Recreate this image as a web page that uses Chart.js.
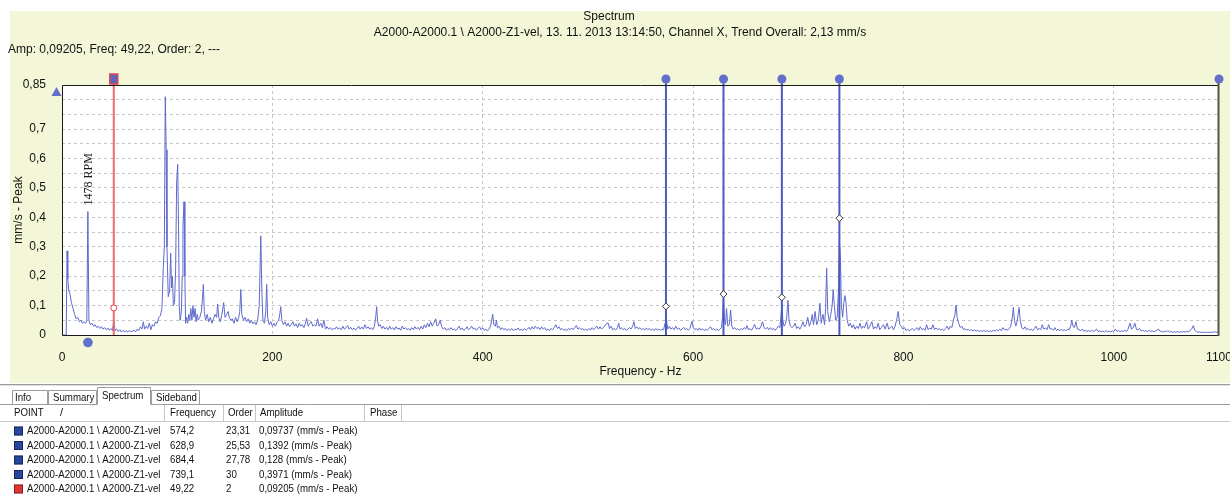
<!DOCTYPE html>
<html>
<head>
<meta charset="utf-8">
<title>Spectrum</title>
<script src="https://cdn.jsdelivr.net/npm/chart.js@4.4.1/dist/chart.umd.min.js"></script>
<style>
  html, body { margin: 0; padding: 0; background: #fff; }
  canvas { display: block; }
</style>
</head>
<body>
<canvas id="spectrumChart" width="1230" height="499"></canvas>
<script>
// axis ticks
const xTickValues = [0, 200, 400, 600, 800, 1000, 1100];
const xTickLabels = ['0', '200', '400', '600', '800', '1000', '1100'];
const yTickValues = [0, 0.05, 0.1, 0.15, 0.2, 0.25, 0.3, 0.35, 0.4, 0.45, 0.5, 0.55, 0.6, 0.65, 0.7, 0.75, 0.8, 0.85];
const yTickLabels = ['0', '', '0,1', '', '0,2', '', '0,3', '', '0,4', '', '0,5', '', '0,6', '', '0,7', '', '', '0,85'];

// spectrum, [frequency Hz, amplitude mm/s peak]
const spectrum = [
  [0,0],[4,0],[4.8,0.286],[5.5,0.19],[6.5,0.15],[7.5,0.14],[9,0.11],[10.5,0.09],[12,0.07],[13.5,0.055],
  [15,0.06],[16.5,0.045],[18,0.05],[19.5,0.04],[21,0.045],[22.5,0.04],[23.6,0.05],[24.6,0.42],[25.6,0.05],[27,0.035],
  [28.5,0.04],[30,0.03],[31.5,0.035],[33,0.025],[34.5,0.03],[36,0.022],[37.5,0.028],[39,0.02],[40.5,0.025],[42,0.018],
  [43.5,0.024],[45,0.016],[46.5,0.022],[48,0.015],[49.2,0.05],[50.5,0.015],
  [52,0.02],[53.5,0.012],[55,0.018],[56.5,0.01],[58,0.016],[59.5,0.011],[61,0.014],[62.5,0.01],[64,0.015],[65.5,0.011],
  [67,0.013],[68.5,0.016],[70,0.011],[71.5,0.02],[73,0.015],[74.5,0.028],[76,0.02],[77.3,0.045],[78.5,0.02],[80,0.03],
  [81.5,0.022],[83,0.04],[84.5,0.018],[86,0.035],[87.5,0.03],[89,0.045],[90.5,0.04],[92,0.06],[93.5,0.065],[95,0.09],
  [96.3,0.23],[97.3,0.3],[98.2,0.81],[99,0.63],[99.8,0.3],[101,0.13],[102.3,0.15],[103.3,0.278],[104.2,0.16],[105,0.2],
  [105.9,0.1],[107,0.11],[108,0.22],[109,0.52],[110,0.58],[110.8,0.37],[111.5,0.1],[112.3,0.05],[113.5,0.08],[114.3,0.2],
  [115,0.37],[116,0.453],[116.8,0.2],[117.5,0.04],
  [118.5,0.06],[119.5,0.04],[120.5,0.07],[121.5,0.05],[122.5,0.09],[123.5,0.05],[124.5,0.1],[125.5,0.06],[126.5,0.09],[127.5,0.045],
  [128.5,0.07],[129.5,0.05],[131,0.06],[132.5,0.08],[133.5,0.12],[134.4,0.172],[135.3,0.08],[136.5,0.05],[138,0.07],[139.5,0.045],
  [141,0.06],[142.5,0.04],[144,0.055],[145.5,0.07],[147,0.06],[148,0.105],[149,0.06],[150.5,0.045],[152,0.07],[153.7,0.11],
  [155,0.06],[156.5,0.07],[158,0.08],[159,0.06],[160.5,0.05],[162,0.055],[163.5,0.04],[165,0.06],[166.5,0.045],[168,0.06],
  [169,0.08],[170,0.155],[171,0.07],[172.5,0.05],[174,0.06],[175.5,0.045],[177,0.055],[178.5,0.04],[180,0.05],[181.5,0.038],
  [183,0.045],[184.5,0.035],[186,0.05],[187.5,0.1],[189,0.337],[190,0.15],[191,0.05],[192.5,0.04],[193.7,0.08],[194.6,0.172],
  [195.5,0.06],[197,0.035],[198.5,0.045],[200,0.03],
  [201.5,0.04],[203,0.03],[204.5,0.045],[206,0.05],[207,0.07],[208,0.096],[209,0.05],[210.5,0.035],[212,0.045],[213.5,0.03],
  [215,0.04],[216.5,0.028],[218,0.035],[219.5,0.045],[221,0.03],[222.5,0.038],[224,0.025],[225.5,0.04],[227,0.03],[228.5,0.035],
  [230,0.025],[231.5,0.04],[232.6,0.057],[234,0.03],[235.5,0.04],[237,0.045],[238.5,0.03],[240,0.035],[241.5,0.03],[243,0.055],
  [244.5,0.03],[246,0.04],[247.5,0.025],[249,0.05],[250.5,0.02],[252,0.028],[253.5,0.02],[255,0.025],[256.5,0.018],[258,0.022],
  [259.5,0.02],[261,0.028],[262.5,0.02],[264,0.024],[265.5,0.018],[267,0.03],[268.5,0.02],[270,0.025],[271.5,0.032],[273,0.02],
  [274.5,0.026],[276,0.018],[277.5,0.024],[279,0.017],[280.5,0.022],[282,0.03],[283.5,0.02],[285,0.027],[286.5,0.02],[288,0.035],
  [289.5,0.022],[291,0.028],[292.5,0.02],[294,0.025],[295.5,0.018],[297,0.03],[298.2,0.06],[299.2,0.096],[300,0.05],[301,0.03],
  [302.5,0.035],[304,0.022],[305.5,0.03],[307,0.02],[308.5,0.026],[310,0.018],[311.5,0.03],[313,0.02],[314.5,0.025],[316,0.017],
  [317.5,0.028],[319,0.02],[320.5,0.024],[322,0.016],[323.5,0.03],[325,0.02],[326.5,0.025],[328,0.018],[329.5,0.022],[331,0.016],
  [332.5,0.025],[334,0.018],[335.5,0.028],[337,0.02],[338.5,0.026],[340,0.018],[341.5,0.03],[343,0.02],[344.5,0.035],[346,0.025],
  [347.5,0.04],[349,0.028],[350.5,0.045],[352,0.03],[353.5,0.04],[355.3,0.055],[356.5,0.03],[358,0.035],[359.5,0.05],[361,0.028],
  [362.5,0.02],[364,0.025],[365.5,0.016],[367,0.022],[368.5,0.018],[370,0.025],[371.5,0.017],[373,0.02],[374.5,0.015],[376,0.022],
  [377.5,0.03],[379,0.018],[380.5,0.024],[382,0.016],[383.5,0.02],[385,0.028],[386.5,0.018],[388,0.022],[389.5,0.03],[391,0.02],
  [392.5,0.024],[394,0.016],[395.5,0.022],[397,0.028],[398.5,0.018],[400,0.024],[401.5,0.016],[403,0.02],[404.5,0.014],[406,0.02],
  [407.5,0.03],[408.5,0.05],[409.5,0.071],[410.5,0.035],[412,0.03],[413,0.05],[414,0.025],[415.5,0.03],[417,0.018],
  [418.5,0.025],[420,0.018],[421.5,0.022],[423,0.015],[424.5,0.02],[426,0.016],[427.5,0.022],[429,0.015],[430.5,0.02],[432,0.017],
  [433.5,0.024],[435,0.016],[436.5,0.02],[438,0.015],[439.5,0.022],[441,0.016],[442.5,0.02],[444,0.026],[445.5,0.018],[447,0.028],
  [448.5,0.02],[450,0.03],[451.5,0.022],[453,0.026],[454.5,0.018],[456,0.028],[457.5,0.02],[459,0.025],[460.5,0.016],[462,0.02],
  [463.5,0.015],[465,0.022],[466.5,0.018],[468,0.026],[469.5,0.035],[471,0.022],[472.5,0.028],[474,0.018],[475.5,0.022],[477,0.016],
  [478.5,0.02],[480,0.015],[481.5,0.022],[483,0.018],[484.5,0.024],[486,0.018],[487.5,0.025],[489,0.032],[490.5,0.02],[492,0.025],
  [493.5,0.018],[495,0.022],[496.5,0.016],[498,0.02],[499.5,0.015],[501,0.022],[502.5,0.017],[504,0.025],[505.5,0.018],[507,0.024],
  [508.5,0.03],[510,0.02],[511.5,0.028],[513,0.02],[514.5,0.026],[516,0.03],[517.8,0.04],[519.4,0.04],[520.5,0.022],
  [522,0.03],[523.5,0.018],[525,0.022],[526.5,0.017],[528,0.025],[529.3,0.04],[530.5,0.02],[532,0.025],[533.5,0.018],[535,0.022],
  [536.5,0.016],[538,0.02],[539.5,0.025],[541,0.02],[542.5,0.03],[543.8,0.045],[545,0.022],[546.5,0.028],[548,0.02],[549.5,0.025],
  [551,0.018],[552.5,0.022],[554,0.017],[555.5,0.024],[557,0.018],[558.5,0.022],[560,0.016],[561.5,0.02],[563,0.015],[564.5,0.022],
  [566,0.017],[567.5,0.02],[569,0.015],[570.5,0.02],[572,0.018],[573.3,0.04],[574.2,0.075],[575.1,0.04],[576,0.02],
  [577.5,0.03],[579,0.02],[580.5,0.025],[582,0.018],[583.5,0.03],[585,0.02],[586.5,0.024],[588,0.016],[589.5,0.02],[591,0.026],
  [592.5,0.018],[594,0.022],[595.5,0.016],[597,0.022],[598,0.035],[599,0.047],[600.2,0.025],[601.5,0.018],[603,0.022],[604.5,0.016],
  [606,0.024],[607.5,0.017],[609,0.021],[610.5,0.015],[612,0.02],[613.5,0.016],[615,0.022],[616.5,0.028],[618,0.018],[619.5,0.022],
  [621,0.016],[622.5,0.02],[624,0.015],[625.5,0.02],[627,0.025],[628,0.06],[628.9,0.127],[629.8,0.05],[630.8,0.035],[631.8,0.09],
  [633,0.03],[634.5,0.035],[635.7,0.085],[636.8,0.03],[638,0.02],
  [639.5,0.025],[641,0.018],[642.5,0.022],[644,0.016],[645.5,0.022],[647,0.018],[648.5,0.025],[650,0.02],[651.2,0.032],[652.5,0.018],
  [654,0.022],[655.5,0.016],[657,0.025],[658.5,0.036],[660,0.02],[661.5,0.024],[663,0.02],[664.5,0.03],[666,0.045],[667.5,0.025],
  [669,0.02],[670.5,0.026],[672,0.018],[673.5,0.025],[675,0.018],[676.5,0.022],[678,0.016],[679.5,0.022],[681,0.03],[682.5,0.025],
  [683.5,0.06],[684.4,0.105],[685.3,0.05],[686.5,0.03],[688,0.04],[689,0.06],[690.2,0.118],[691.2,0.05],[692.5,0.03],
  [694,0.025],[695.5,0.03],[697,0.04],[698.5,0.022],[700,0.028],[701.5,0.02],[703,0.03],[704.5,0.045],[706,0.028],[707.5,0.035],
  [709,0.06],[710.5,0.03],[712,0.045],[713.3,0.07],[714.5,0.035],[716,0.08],[717.5,0.035],[719,0.05],[720.6,0.108],[721.8,0.04],
  [723.5,0.07],[725,0.035],[726,0.09],[727,0.227],[728,0.08],[729.5,0.045],[731,0.07],[732.2,0.1],[733.2,0.155],[734.3,0.1],
  [735.5,0.05],[737,0.06],[738.2,0.15],[739.1,0.32],[740,0.27],[741,0.1],[742.2,0.06],[743.3,0.11],[744.4,0.134],[745.4,0.11],
  [746.5,0.05],[748,0.03],[749.5,0.04],
  [751,0.025],[752.5,0.035],[754,0.02],[755.5,0.03],[757,0.022],[758.7,0.04],[760,0.022],[761.5,0.03],[763,0.024],[765,0.045],
  [766.5,0.02],[768,0.03],[770,0.045],[771.5,0.02],[773,0.028],[774.5,0.022],[776,0.04],[777.5,0.018],[779,0.025],[781,0.035],
  [782.5,0.02],[784.5,0.04],[786,0.02],[787.5,0.025],[789,0.03],[790.5,0.018],[792,0.03],[793.5,0.05],[795,0.08],[796.5,0.035],
  [798,0.03],[799.5,0.02],[801,0.025],[802.5,0.015],[804,0.02],[805.5,0.014],[807,0.018],[808.5,0.022],[810,0.015],[811.5,0.02],
  [813,0.025],[814.5,0.016],[816,0.028],[817.5,0.018],[819,0.022],[820.5,0.016],[822,0.035],[823.5,0.018],[825,0.024],[826.5,0.02],
  [828,0.035],[829.5,0.018],
  [831,0.024],[832.5,0.018],[834,0.022],[835.5,0.016],[837,0.02],[838.5,0.015],[840,0.022],[841.5,0.03],[843,0.018],[844.5,0.03],
  [846,0.025],[847.5,0.05],[849,0.07],[850,0.102],[851,0.06],[852.5,0.04],[854,0.025],[855.5,0.03],[857,0.018],[858.5,0.022],
  [860,0.016],[861.5,0.02],[863,0.015],[864.5,0.018],[866,0.014],[867.5,0.017],[869,0.013],[870.5,0.016],[872,0.012],[873.5,0.015],
  [875,0.012],[876.5,0.016],[878,0.012],[879.5,0.015],[881,0.011],[882.5,0.014],[884,0.012],[885.5,0.016],[887,0.013],[888.5,0.018],
  [890,0.014],[891.5,0.02],[893,0.015],[894.5,0.025],[896,0.018],[897.5,0.02],[899,0.016],[900.5,0.022],[902,0.03],[903.5,0.06],
  [904.5,0.094],[905.5,0.05],[906.8,0.03],
  [908,0.045],[909,0.07],[910,0.094],[911,0.05],[912.5,0.025],[914,0.02],[915.5,0.028],[917,0.018],[918.5,0.022],[920,0.016],
  [921.5,0.02],[923,0.015],[924.5,0.022],[926,0.03],[927.5,0.018],[929,0.022],[930.5,0.018],[932,0.035],[933.5,0.02],[935,0.024],
  [936.5,0.018],[938,0.035],[939.5,0.02],[941,0.022],[942.5,0.016],[944,0.025],[945.5,0.015],[947,0.02],[948.5,0.014],[950,0.02],
  [951.5,0.015],[953,0.018],[954.5,0.014],[956,0.02],[957.5,0.018],[959,0.03],[960,0.05],[961.2,0.03],[962.5,0.025],[964,0.045],
  [965.5,0.02],[967,0.018],[968.5,0.014],[970,0.02],[971.5,0.013],[973,0.016],[974.5,0.012],[976,0.015],[977.5,0.012],[979,0.016],
  [980.5,0.012],[982,0.015],[983.5,0.02],[985,0.012],[986.5,0.014],[988,0.011],[989.5,0.013],[991,0.01],[992.5,0.015],[994,0.011],
  [995.5,0.013],[997,0.01],[998.5,0.014],[1000,0.012],
  [1001.5,0.02],[1003,0.012],[1004.5,0.015],[1006,0.011],[1007.5,0.014],[1009,0.012],[1010.5,0.016],[1012,0.012],[1013.5,0.02],[1015.4,0.04],
  [1016.8,0.02],[1018.5,0.025],[1020,0.04],[1021.5,0.02],[1023,0.018],[1024.5,0.022],[1026,0.014],[1027.5,0.016],[1029,0.012],[1030.5,0.015],
  [1032,0.011],[1033.5,0.016],[1035,0.012],[1036.5,0.014],[1038,0.011],[1039.5,0.013],[1041,0.016],[1042.5,0.02],[1044,0.013],[1045.5,0.012],
  [1047,0.01],[1048.5,0.013],[1050,0.011],[1051.5,0.015],[1053,0.01],[1054.5,0.012],[1056,0.009],[1057.5,0.011],[1059,0.009],[1060.5,0.012],
  [1062,0.009],[1063.5,0.011],[1065,0.01],[1066.5,0.012],[1068,0.01],[1069.5,0.013],[1071,0.011],[1072.5,0.015],[1074,0.02],[1075.6,0.032],
  [1077,0.016],[1078.5,0.012],[1080,0.009],[1081.5,0.011],[1083,0.008],[1084.5,0.01],[1086,0.008],[1087.5,0.01],[1089,0.008],[1090.5,0.01],
  [1092,0.008],[1093.5,0.01],[1095,0.009],[1096.5,0.011],[1098,0.009],[1100,0.01]
];

// harmonic cursors (blue) and the reference cursor (red)
const cursorFreqs = [574.2, 628.9, 684.4, 739.1];
const cursorOrders = [23.31, 25.53, 27.78, 30];
const cursorAmps = [0.09737, 0.1392, 0.128, 0.3971];
const refFreq = 49.22;
const refOrder = 2;
const refAmp = 0.09205;
const rpmFreq = 24.63;
const rpmPeak = 0.42;
const rpmLabel = '1478 RPM';
const endMarkerFreq = 1100;

const pointName = 'A2000-A2000.1 \\ A2000-Z1-vel';
const titleText = 'Spectrum';
const subtitleText = 'A2000-A2000.1 \\ A2000-Z1-vel, 13. 11. 2013 13:14:50, Channel X, Trend Overall: 2,13 mm/s';
const tabNames = ['Info', 'Summary', 'Spectrum', 'Sideband'];
const headerNames = ['Frequency', 'Order', 'Amplitude', 'Phase'];

const Y_MAX = 0.85;
const FONT = '"Liberation Sans", Arial, sans-serif';
const CURSOR_BLUE = 'rgb(72, 90, 192)';
const DOT_BLUE = 'rgb(98, 112, 204)';
const CURSOR_RED = 'rgb(236, 108, 108)';

const fmt = v => String(v).replace('.', ',');

// the list view font is narrower than Arial, squeeze it a bit
function narrowText(c, t, x, y) {
  c.fillText(t, x, y, c.measureText(t).width * 0.88);
}

const decor = {
  id: 'decor',
  beforeDraw(chart) {
    const c = chart.ctx, a = chart.chartArea;
    c.save();
    c.fillStyle = '#ffffff';
    c.fillRect(0, 0, chart.width, chart.height);
    c.fillStyle = '#f4f6d8';
    c.fillRect(10, 11, chart.width - 10, 372);
    c.fillStyle = '#ffffff';
    c.fillRect(a.left, a.top, a.right - a.left, a.bottom - a.top);
    c.restore();
  },
  afterDatasetsDraw(chart) {
    const c = chart.ctx, a = chart.chartArea;
    const xs = chart.scales.x, ys = chart.scales.y;
    const topY = a.top - 6;
    c.save();
    // frame
    c.strokeStyle = '#1a1a1a';
    c.lineWidth = 1;
    c.beginPath();
    c.moveTo(a.right, a.top + 0.5);
    c.lineTo(a.left + 0.5, a.top + 0.5);
    c.lineTo(a.left + 0.5, a.bottom + 0.5);
    c.lineTo(a.right, a.bottom + 0.5);
    c.stroke();
    // end-of-range marker along the right edge
    const ex = xs.getPixelForValue(endMarkerFreq);
    c.strokeStyle = '#55554a';
    c.lineWidth = 2;
    c.beginPath();
    c.moveTo(ex - 0.5, topY);
    c.lineTo(ex - 0.5, a.bottom + 1);
    c.stroke();
    // cursor stubs and dots above the plot
    c.strokeStyle = CURSOR_BLUE;
    c.lineWidth = 2;
    cursorFreqs.forEach(f => {
      const px = xs.getPixelForValue(f);
      c.beginPath();
      c.moveTo(px, topY);
      c.lineTo(px, a.top);
      c.stroke();
    });
    c.fillStyle = DOT_BLUE;
    cursorFreqs.concat([endMarkerFreq]).forEach(f => {
      c.beginPath();
      c.arc(xs.getPixelForValue(f), topY, 4.5, 0, Math.PI * 2);
      c.fill();
    });
    // reference cursor handle
    const rx = xs.getPixelForValue(refFreq);
    c.strokeStyle = CURSOR_RED;
    c.beginPath();
    c.moveTo(rx, topY);
    c.lineTo(rx, a.top);
    c.stroke();
    c.fillStyle = 'rgb(92, 100, 190)';
    c.fillRect(rx - 4, topY - 5, 8, 10);
    c.lineWidth = 1.5;
    c.strokeStyle = 'rgb(226, 70, 80)';
    c.strokeRect(rx - 4, topY - 5, 8, 10);
    // scale triangle at top left
    c.fillStyle = DOT_BLUE;
    c.beginPath();
    c.moveTo(a.left - 5.5, a.top + 2);
    c.lineTo(a.left - 10.5, a.top + 11);
    c.lineTo(a.left - 0.5, a.top + 11);
    c.closePath();
    c.fill();
    // running speed marker below the axis
    const sx = xs.getPixelForValue(rpmFreq);
    c.beginPath();
    c.arc(sx, a.bottom + 7.5, 4.8, 0, Math.PI * 2);
    c.fill();
    // running speed label
    c.translate(sx + 1, ys.getPixelForValue(rpmPeak) - 6);
    c.rotate(-Math.PI / 2);
    c.fillStyle = '#1a1a1a';
    c.font = '12px "Liberation Serif", "Times New Roman", serif';
    c.textAlign = 'left';
    c.textBaseline = 'middle';
    c.fillText(rpmLabel, 0, 0);
    c.restore();
  },
  afterDraw(chart) {
    const c = chart.ctx;
    c.save();
    c.fillStyle = '#111';
    c.textBaseline = 'middle';
    c.font = '12px ' + FONT;
    c.textAlign = 'center';
    c.fillText(titleText, 609, 17);
    c.fillText(subtitleText, 620, 33);
    c.textAlign = 'left';
    c.fillText('Amp: ' + fmt(refAmp) + ', Freq: ' + fmt(refFreq) + ', Order: ' + refOrder + ', ---', 8, 50);

    // info panel below the chart
    c.fillStyle = '#ffffff';
    c.fillRect(0, 383, chart.width, chart.height - 383);
    c.fillStyle = '#9a9a9a';
    c.fillRect(0, 384, chart.width, 1);
    c.fillStyle = '#e2e2e2';
    c.fillRect(0, 385, chart.width, 1);

    // tabs
    const tabEdges = [12, 48, 97, 151, 200];
    c.strokeStyle = '#9c9c9c';
    c.lineWidth = 1;
    c.beginPath();
    c.moveTo(0, 404.5);
    c.lineTo(chart.width, 404.5);
    c.stroke();
    c.font = '11px ' + FONT;
    tabNames.forEach((t, i) => {
      const x0 = tabEdges[i], x1 = tabEdges[i + 1];
      const active = t === 'Spectrum';
      const top = active ? 387.5 : 390.5;
      if (active) {
        c.fillStyle = '#ffffff';
        c.fillRect(x0, top, x1 - x0, 405 - top);
      }
      c.beginPath();
      c.moveTo(x0 + 0.5, 404.5);
      c.lineTo(x0 + 0.5, top);
      c.lineTo(x1 - 0.5, top);
      c.lineTo(x1 - 0.5, 404.5);
      c.stroke();
      c.fillStyle = '#111';
      narrowText(c, t, x0 + (i === 0 ? 3 : 5), active ? 395.5 : 397.5);
    });

    // header row
    const sepX = [164, 223, 255, 364, 401];
    const headX = [170, 228, 260, 370];
    c.strokeStyle = '#c8c8c8';
    c.beginPath();
    sepX.forEach(x => { c.moveTo(x + 0.5, 405); c.lineTo(x + 0.5, 421); });
    c.moveTo(0, 421.5);
    c.lineTo(chart.width, 421.5);
    c.stroke();
    c.fillStyle = '#111';
    narrowText(c, 'POINT', 14, 413);
    c.fillText('/', 60, 413);
    headerNames.forEach((h, i) => narrowText(c, h, headX[i], 413));

    // rows
    const rows = cursorFreqs.map((f, i) => ({ f, o: cursorOrders[i], a: cursorAmps[i], col: 'rgb(38, 70, 160)' }));
    rows.push({ f: refFreq, o: refOrder, a: refAmp, col: 'rgb(228, 52, 52)' });
    rows.forEach((r, i) => {
      const y = 431 + i * 14.5;
      c.fillStyle = r.col;
      c.fillRect(14, y - 4.5, 9, 9);
      c.strokeStyle = 'rgba(0,0,0,0.45)';
      c.strokeRect(14.5, y - 4, 8, 8);
      c.fillStyle = '#111';
      narrowText(c, pointName, 27, y);
      narrowText(c, fmt(r.f), 170, y);
      narrowText(c, fmt(r.o), 226, y);
      narrowText(c, fmt(r.a) + ' (mm/s - Peak)', 259, y);
    });
    c.restore();
  }
};

document.addEventListener('DOMContentLoaded', function () {
  const ctx = document.getElementById('spectrumChart').getContext('2d');

  const cursorSets = cursorFreqs.map(f => ({
    type: 'line',
    data: [{ x: f, y: 0 }, { x: f, y: Y_MAX }],
    borderColor: CURSOR_BLUE,
    borderWidth: 2,
    pointRadius: 0,
    order: 1
  }));

  new Chart(ctx, {
    type: 'line',
    data: {
      datasets: [
        {
          label: 'markers',
          type: 'scatter',
          data: cursorFreqs.map((f, i) => ({ x: f, y: cursorAmps[i] })),
          pointStyle: 'rectRot',
          pointRadius: 3.5,
          backgroundColor: '#ffffff',
          borderColor: '#3a3a3a',
          borderWidth: 1,
          order: 0
        },
        {
          label: 'reference',
          type: 'scatter',
          data: [{ x: refFreq, y: refAmp }],
          pointStyle: 'circle',
          pointRadius: 3,
          backgroundColor: '#ffffff',
          borderColor: 'rgb(226, 70, 80)',
          borderWidth: 1,
          order: 0
        },
        {
          label: 'ref cursor',
          data: [{ x: refFreq, y: 0 }, { x: refFreq, y: Y_MAX }],
          borderColor: CURSOR_RED,
          borderWidth: 2,
          pointRadius: 0,
          order: 1
        },
        ...cursorSets,
        {
          label: 'Spectrum',
          data: spectrum.map(p => ({ x: p[0], y: p[1] })),
          borderColor: 'rgb(96, 106, 206)',
          borderWidth: 1,
          pointRadius: 0,
          tension: 0,
          order: 2
        }
      ]
    },
    options: {
      responsive: false,
      animation: false,
      devicePixelRatio: 1,
      layout: { padding: { left: 0, right: 11, top: 85, bottom: 120 } },
      plugins: {
        legend: { display: false },
        tooltip: { enabled: false }
      },
      scales: {
        x: {
          type: 'linear',
          min: 0,
          max: 1100,
          afterBuildTicks: s => { s.ticks = xTickValues.map(v => ({ value: v })); },
          afterFit: s => { s.height = 44; s.paddingLeft = 0; s.paddingRight = 0; },
          ticks: {
            padding: 15,
            autoSkip: false,
            maxRotation: 0,
            color: '#111',
            font: { family: FONT, size: 12 },
            callback: (v, i) => xTickLabels[i]
          },
          grid: {
            drawTicks: false,
            color: c => (c.index === 0 || c.index === xTickValues.length - 1) ? 'rgba(0,0,0,0)' : '#c6c6c6'
          },
          border: { display: false, dash: [3, 3] },
          title: {
            display: true,
            text: 'Frequency - Hz',
            color: '#111',
            font: { family: FONT, size: 12 },
            padding: { top: 0, bottom: 0 }
          }
        },
        y: {
          min: 0,
          max: Y_MAX,
          afterBuildTicks: s => { s.ticks = yTickValues.map(v => ({ value: v })); },
          afterFit: s => { s.width = 62; },
          ticks: {
            padding: 16,
            autoSkip: false,
            color: '#111',
            font: { family: FONT, size: 12 },
            callback: (v, i) => yTickLabels[i]
          },
          grid: {
            drawTicks: false,
            color: c => (c.index === 0 || c.index === yTickValues.length - 1) ? 'rgba(0,0,0,0)' : '#c6c6c6'
          },
          border: { display: false, dash: [3, 3] },
          title: {
            display: true,
            text: 'mm/s - Peak',
            color: '#111',
            font: { family: FONT, size: 12 },
            padding: { top: 11, bottom: 0 }
          }
        }
      }
    },
    plugins: [decor]
  });
});
</script>
</body>
</html>
